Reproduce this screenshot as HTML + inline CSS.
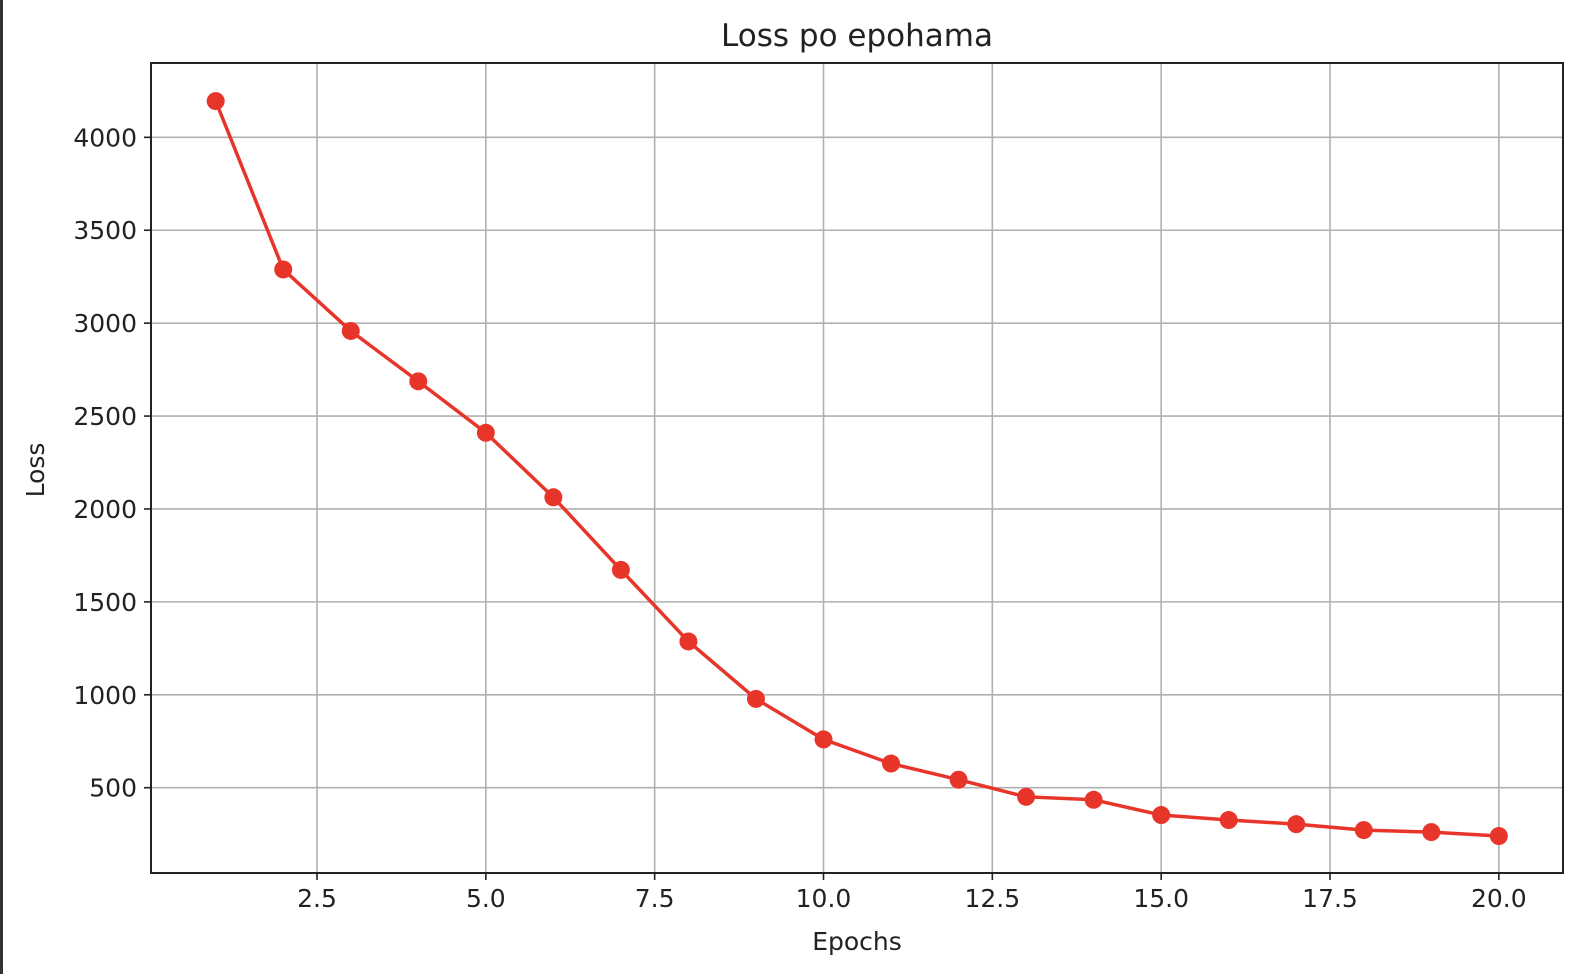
<!DOCTYPE html>
<html><head><meta charset="utf-8"><style>
html,body{margin:0;padding:0;background:#fff;}
svg{display:block;font-family:"DejaVu Sans","Liberation Sans",sans-serif;}
</style></head><body>
<svg id="chart" width="1580" height="974" viewBox="0 0 1580 974" xmlns="http://www.w3.org/2000/svg">
<rect x="0" y="0" width="1580" height="974" fill="#fff"/>
<rect x="0" y="0" width="3" height="974" fill="#333"/>
<g id="grid"></g>
<g id="axes"></g>
<g id="series"></g>
<text x="857" y="46" text-anchor="middle" font-size="31" fill="#222">Loss po epohama</text>
<text x="857" y="950" text-anchor="middle" font-size="25" fill="#222">Epochs</text>
<text transform="translate(44,470) rotate(-90)" text-anchor="middle" font-size="25" fill="#222">Loss</text>
</svg>
<script>
const epochs = [1,2,3,4,5,6,7,8,9,10,11,12,13,14,15,16,17,18,19,20];
const lossValues = [4195,3289,2958,2687,2410,2063,1672,1287,978,760,630,543,451,435,353,326,304,272,261,240];
const xTicks = [2.5,5.0,7.5,10.0,12.5,15.0,17.5,20.0];
const xTickLabels = ["2.5","5.0","7.5","10.0","12.5","15.0","17.5","20.0"];
const yTicks = [500,1000,1500,2000,2500,3000,3500,4000];
const yTickLabels = ["500","1000","1500","2000","2500","3000","3500","4000"];

const L=151,R=1563,T=63,B=873;
const xMin=0.042,xMax=20.95,yMin=41,yMax=4400;
const xs=v=>L+(v-xMin)/(xMax-xMin)*(R-L);
const ys=v=>B-(v-yMin)/(yMax-yMin)*(B-T);
const NS="http://www.w3.org/2000/svg";
function mk(tag,attrs,parent){const e=document.createElementNS(NS,tag);for(const k in attrs)e.setAttribute(k,attrs[k]);parent.appendChild(e);return e;}
const grid=document.getElementById('grid'),axes=document.getElementById('axes'),series=document.getElementById('series');
xTicks.forEach((t,i)=>{
  const x=xs(t);
  const g=mk('line',{x1:x,x2:x,y1:T,y2:B,stroke:'#b0b0b0','stroke-width':1.6},grid);
  
  
  const tk=mk('line',{x1:x,x2:x,y1:B,y2:B+7,stroke:'#222','stroke-width':1.6},axes);
  
  
  const lb=mk('text',{x:x,y:B+34,'text-anchor':'middle','font-size':25,fill:'#222'},axes);
  lb.textContent=xTickLabels[i];
  
  
});
yTicks.forEach((t,i)=>{
  const y=ys(t);
  const g=mk('line',{x1:L,x2:R,y1:y,y2:y,stroke:'#b0b0b0','stroke-width':1.6},grid);
  
  
  const tk=mk('line',{x1:L-7,x2:L,y1:y,y2:y,stroke:'#222','stroke-width':1.6},axes);
  
  
  const lb=mk('text',{x:L-14,y:y+9,'text-anchor':'end','font-size':25,fill:'#222'},axes);
  lb.textContent=yTickLabels[i];
  
  
});
const frame=mk('rect',{x:L,y:T,width:R-L,height:B-T,fill:'none',stroke:'#222','stroke-width':2},axes);


const pts=epochs.map((e,i)=>xs(e)+','+ys(lossValues[i])).join(' ');
const line=mk('polyline',{points:pts,fill:'none',stroke:'#e8352a','stroke-width':3.5,'stroke-linejoin':'round'},series);


epochs.forEach((e,i)=>{
  const c=mk('circle',{cx:xs(e),cy:ys(lossValues[i]),r:9,fill:'#e8352a'},series);
  
  
});
</script>
</body></html>
